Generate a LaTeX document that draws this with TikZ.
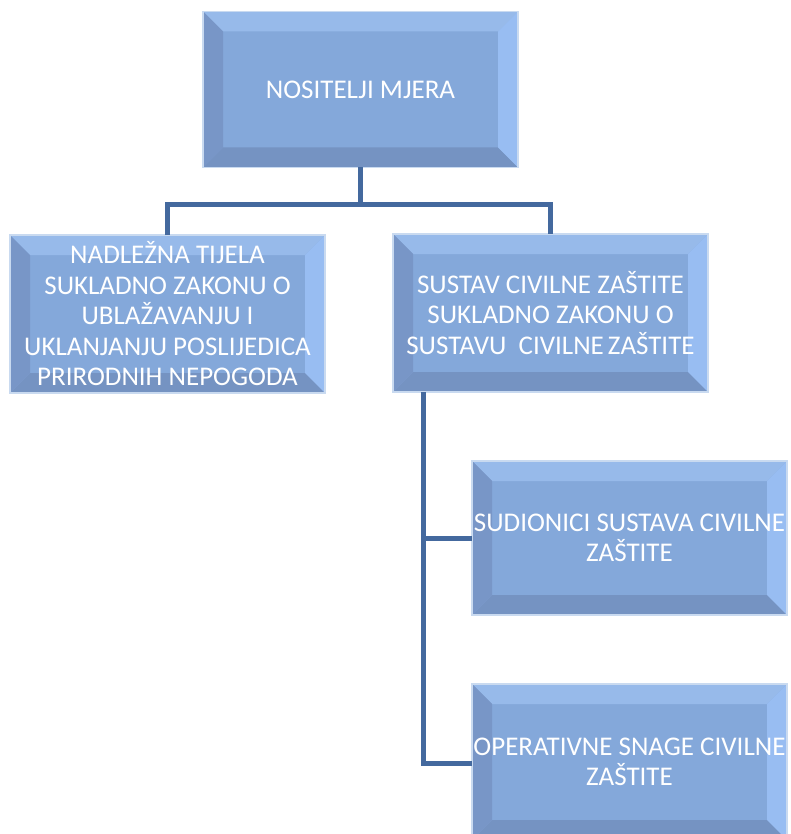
\documentclass[tikz,border=0pt]{standalone}
\usepackage{fontspec}
\setmainfont{Carlito}
\begin{document}
\begin{tikzpicture}[x=1pt,y=-1pt,
  bevel/.style={
    minimum width=315pt, minimum height=156pt, inner sep=0pt, outer sep=0pt,
    fill=boxmain, draw=boxedge, line width=1.2pt,
    text=white, align=center,
    font=\fontsize{27}{30.5}\selectfont,
    path picture={
      \fill[boxtop] (path picture bounding box.north west) -- (path picture bounding box.north east)
        -- ([xshift=-20pt,yshift=-20pt]path picture bounding box.north east)
        -- ([xshift=20pt,yshift=-20pt]path picture bounding box.north west) -- cycle;
      \fill[boxbot] (path picture bounding box.south west) -- (path picture bounding box.south east)
        -- ([xshift=-20pt,yshift=20pt]path picture bounding box.south east)
        -- ([xshift=20pt,yshift=20pt]path picture bounding box.south west) -- cycle;
      \fill[boxleft] (path picture bounding box.north west) -- (path picture bounding box.south west)
        -- ([xshift=20pt,yshift=20pt]path picture bounding box.south west)
        -- ([xshift=20pt,yshift=-20pt]path picture bounding box.north west) -- cycle;
      \fill[boxright] (path picture bounding box.north east) -- (path picture bounding box.south east)
        -- ([xshift=-20pt,yshift=20pt]path picture bounding box.south east)
        -- ([xshift=-20pt,yshift=-20pt]path picture bounding box.north east) -- cycle;
    }},
  conn/.style={draw=connblue, line width=5pt}
]
\definecolor{boxmain}{HTML}{84A8DA}
\definecolor{boxtop}{HTML}{97BAEA}
\definecolor{boxbot}{HTML}{7593C2}
\definecolor{boxleft}{HTML}{7896C7}
\definecolor{boxright}{HTML}{98BDF2}
\definecolor{boxedge}{HTML}{C9DAF0}
\definecolor{connblue}{HTML}{44699E}
\clip (0,0) rectangle (790,834);
\fill[white] (0,0) rectangle (790,834);

\node[bevel] (top) at (360.5,89.5) {NOSITELJI MJERA};
\node[bevel, minimum height=158pt] (left) at (167.5,314) {NADLEŽNA TIJELA\\SUKLADNO ZAKONU O\\UBLAŽAVANJU I\\UKLANJANJU POSLIJEDICA\\PRIRODNIH NEPOGODA};
\node[bevel, minimum height=158pt] (right) at (550.5,313) {SUSTAV CIVILNE ZAŠTITE\\SUKLADNO ZAKONU O\\SUSTAVU\ \ CIVILNE\hspace{-2pt} ZAŠTITE};
\node[bevel, minimum height=154pt] (sud) at (629.5,538) {SUDIONICI SUSTAVA CIVILNE\\ZAŠTITE};
\node[bevel] (ops) at (629.5,762) {OPERATIVNE SNAGE CIVILNE\\ZAŠTITE};

\coordinate (split) at (360.5,205);
\coordinate (trunk) at (423,763);
\draw[conn] (top.south) -- (split);
\draw[conn] (left.north) |- (split) -| (right.north);
\draw[conn] (right.south -| trunk) -- (trunk) -- (trunk -| ops.west);
\draw[conn] (sud.west -| trunk) -- (sud.west);
\end{tikzpicture}
\end{document}
